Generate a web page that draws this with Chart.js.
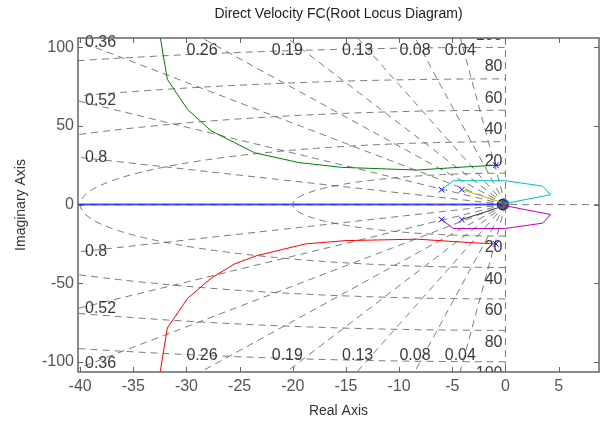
<!DOCTYPE html>
<html lang="en">
<head>
    <meta charset="UTF-8">
    <title>Direct Velocity FC(Root Locus Diagram)</title>
    <script src="https://cdn.jsdelivr.net/npm/chart.js"></script>
    <style>
        html, body { margin: 0; padding: 0; background: #fff; }
        #wrap { width: 605px; height: 423px; }
    </style>
</head>
<body>
    <div id="wrap">
        <canvas id="rlocus"></canvas>
    </div>

    <script>
        // Axis ticks
        const xTicks = [-40, -35, -30, -25, -20, -15, -10, -5, 0, 5];
        const yTicks = [-100, -50, 0, 50, 100];

        // sgrid: damping ratios and natural frequencies
        const zetaVals = [0.04, 0.08, 0.13, 0.19, 0.26, 0.36, 0.52, 0.8];
        const wnVals = [20, 40, 60, 80, 100];

        // open-loop poles and zeros
        const poleRe = [-0.9, -0.9, -6.0, -6.0, -4.1, -4.1];
        const poleIm = [25.0, -25.0, 9.5, -9.5, 9.5, -9.5];
        const zeroRe = [-0.3];
        const zeroIm = [0];

        // locus branches (real part, imaginary part)
        const realAxisRe = [-45, -0.3];
        const realAxisIm = [0, 0];

        const greenRe = [-0.9, -3.5, -8.3, -15.4, -19.4, -23.6, -27.7, -29.9, -31.8, -32.6];
        const greenIm = [25.0, 24.1, 22.0, 23.7, 26.7, 33.0, 47.0, 60.6, 79.7, 112];

        const redRe = [-0.9, -3.5, -8.3, -15.0, -18.8, -23.4, -25.5, -27.7, -29.9, -31.8, -32.6];
        const redIm = [-25.0, -24.1, -22.0, -22.9, -25.0, -32.5, -37.8, -46.9, -59.7, -78.5, -112];

        const cyanRe = [-6.0, -4.9, -0.05, 3.5, 4.25, -0.1];
        const cyanIm = [9.5, 15.2, 15.2, 11.8, 6.3, 0.6];

        const magentaRe = [-6.0, -4.9, -0.05, 3.5, 4.25, -0.1];
        const magentaIm = [-9.5, -15.2, -15.2, -11.8, -6.3, -0.6];

        const yellowRe = [-4.1, -0.65, -0.3];
        const yellowIm = [9.5, 2.1, 0.4];

        const blackRe = [-4.1, -0.6, -0.3];
        const blackIm = [-9.5, -1.8, -0.4];

        const X_MIN = -40.2, X_MAX = 8.8;
        const Y_MIN = -106.5, Y_MAX = 106;

        const FONT = "'Liberation Sans', Arial, sans-serif";

        function pts(re, im) {
            return re.map((v, i) => ({ x: v, y: im[i] }));
        }

        function branch(re, im, color, width) {
            return {
                data: pts(re, im),
                showLine: true,
                borderColor: color,
                borderWidth: width || 1,
                pointRadius: 0,
                fill: false,
                clip: 0
            };
        }

        // damping rays, wn ellipses and their labels
        const sgridPlugin = {
            id: 'sgrid',
            beforeDatasetsDraw(chart) {
                const ctx = chart.ctx;
                const { left, right, top, bottom } = chart.chartArea;
                const xs = chart.scales.x, ys = chart.scales.y;
                const ox = xs.getPixelForValue(0), oy = ys.getPixelForValue(0);

                ctx.save();
                ctx.beginPath();
                ctx.rect(left, top, right - left, bottom - top);
                ctx.clip();

                ctx.strokeStyle = 'rgba(90,90,90,0.8)';
                ctx.lineWidth = 1;
                ctx.setLineDash([7, 5]);

                // natural frequency curves
                wnVals.forEach(wn => {
                    const rx = ox - xs.getPixelForValue(-wn);
                    const ry = ys.getPixelForValue(-wn) - oy;
                    ctx.beginPath();
                    ctx.ellipse(ox, oy, rx, ry, 0, Math.PI / 2, Math.PI * 1.5);
                    ctx.stroke();
                });

                // constant damping rays
                const R = 1000;
                zetaVals.forEach(z => {
                    const ex = xs.getPixelForValue(-R * z);
                    const s = Math.sqrt(1 - z * z);
                    [1, -1].forEach(sign => {
                        ctx.beginPath();
                        ctx.moveTo(ox, oy);
                        ctx.lineTo(ex, ys.getPixelForValue(sign * R * s));
                        ctx.stroke();
                    });
                });

                // real and imaginary axes
                ctx.beginPath();
                ctx.moveTo(left, oy);
                ctx.lineTo(right, oy);
                ctx.moveTo(ox, top);
                ctx.lineTo(ox, bottom);
                ctx.stroke();

                ctx.setLineDash([]);
                ctx.fillStyle = 'rgba(95,95,95,0.95)';
                ctx.beginPath();
                ctx.arc(ox - 2, oy, 6, 0, Math.PI * 2);
                ctx.fill();

                // wn labels, cut at the axes box
                ctx.fillStyle = '#3a3a3a';
                ctx.font = '16px ' + FONT;
                ctx.textBaseline = 'middle';
                ctx.textAlign = 'right';
                wnVals.forEach(wn => {
                    ctx.fillText(String(wn), ox - 3, ys.getPixelForValue(wn) - 12);
                    ctx.fillText(String(wn), ox - 3, ys.getPixelForValue(-wn) + 12);
                });
                ctx.restore();

                // damping labels
                ctx.save();
                ctx.fillStyle = '#3a3a3a';
                ctx.font = '16px ' + FONT;
                ctx.textBaseline = 'middle';
                zetaVals.forEach(z => {
                    const k = Math.sqrt(1 - z * z) / z;
                    const txt = String(z);
                    const xTop = -Y_MAX / k;
                    if (xTop >= X_MIN) {
                        ctx.textAlign = 'center';
                        const px = xs.getPixelForValue(xTop);
                        ctx.fillText(txt, px, top + 12.5);
                        ctx.fillText(txt, px, bottom - 16);
                    } else {
                        ctx.textAlign = 'left';
                        const yc = -X_MIN * k;
                        const yu = Math.max(ys.getPixelForValue(yc), top + 5);
                        const yl = Math.min(ys.getPixelForValue(-yc), bottom - 8);
                        ctx.fillText(txt, left + 7, yu);
                        ctx.fillText(txt, left + 7, yl);
                    }
                });
                ctx.restore();
            }
        };

        // axes box with inward ticks on all four sides
        const boxPlugin = {
            id: 'box',
            afterDatasetsDraw(chart) {
                const ctx = chart.ctx;
                const { left, right, top, bottom } = chart.chartArea;
                const xs = chart.scales.x, ys = chart.scales.y;
                const tl = 5;
                ctx.save();
                ctx.strokeStyle = '#666';
                ctx.lineWidth = 1;
                ctx.beginPath();
                xTicks.forEach(v => {
                    const px = Math.round(xs.getPixelForValue(v)) + 0.5;
                    ctx.moveTo(px, bottom); ctx.lineTo(px, bottom - tl);
                    ctx.moveTo(px, top); ctx.lineTo(px, top + tl);
                });
                yTicks.forEach(v => {
                    const py = Math.round(ys.getPixelForValue(v)) + 0.5;
                    ctx.moveTo(left, py); ctx.lineTo(left + tl, py);
                    ctx.moveTo(right, py); ctx.lineTo(right - tl, py);
                });
                ctx.stroke();
                ctx.lineWidth = 1.5;
                ctx.strokeRect(left, top, right - left, bottom - top);
                ctx.restore();
            }
        };

        const datasets = [
            branch(realAxisRe, realAxisIm, 'rgba(20,20,255,0.75)', 2),
            branch(greenRe, greenIm, '#008000'),
            branch(redRe, redIm, '#ff0000'),
            branch(cyanRe, cyanIm, '#00bfbf'),
            branch(magentaRe, magentaIm, '#bf00bf'),
            branch(yellowRe, yellowIm, '#bfbf00'),
            branch(blackRe, blackIm, '#404040'),
            {
                data: pts(poleRe, poleIm),
                pointStyle: 'crossRot',
                pointRadius: 4,
                borderColor: '#0000ff',
                borderWidth: 1,
                showLine: false,
                clip: 0
            },
            {
                data: pts(zeroRe, zeroIm),
                pointStyle: 'circle',
                pointRadius: 5,
                borderColor: '#0000ff',
                backgroundColor: 'rgba(0,0,0,0)',
                borderWidth: 1,
                showLine: false,
                clip: 0
            }
        ];

        new Chart(document.getElementById('rlocus').getContext('2d'), {
            type: 'scatter',
            data: { datasets: datasets },
            plugins: [sgridPlugin, boxPlugin],
            options: {
                responsive: true,
                maintainAspectRatio: false,
                animation: false,
                events: [],
                layout: { padding: { left: 0, right: 4, top: 0, bottom: 0 } },
                plugins: {
                    legend: { display: false },
                    tooltip: { enabled: false },
                    title: {
                        display: true,
                        fullSize: false,
                        text: 'Direct Velocity FC(Root Locus Diagram)',
                        color: '#222',
                        font: { family: FONT, size: 14, weight: 'normal', lineHeight: 1.2 },
                        padding: { top: 6, bottom: 15.2 }
                    }
                },
                scales: {
                    x: {
                        type: 'linear',
                        min: X_MIN,
                        max: X_MAX,
                        grid: { display: false, drawTicks: false },
                        border: { display: false },
                        afterBuildTicks: s => { s.ticks = xTicks.map(v => ({ value: v })); },
                        afterFit: s => { s.height = 51; },
                        ticks: {
                            color: '#555',
                            padding: 5,
                            maxRotation: 0,
                            autoSkip: false,
                            font: { family: FONT, size: 16 },
                            callback: v => String(v)
                        },
                        title: {
                            display: true,
                            text: 'Real Axis',
                            color: '#333',
                            font: { family: FONT, size: 14 },
                            padding: { top: 3, bottom: 3 }
                        }
                    },
                    y: {
                        type: 'linear',
                        min: Y_MIN,
                        max: Y_MAX,
                        grid: { display: false, drawTicks: false },
                        border: { display: false },
                        afterBuildTicks: s => { s.ticks = yTicks.map(v => ({ value: v })); },
                        afterFit: s => { s.width = 78; },
                        ticks: {
                            color: '#555',
                            padding: 4,
                            autoSkip: false,
                            font: { family: FONT, size: 16 },
                            callback: v => String(v)
                        },
                        title: {
                            display: true,
                            text: 'Imaginary Axis',
                            color: '#333',
                            font: { family: FONT, size: 14 },
                            padding: { top: 13, bottom: 0 }
                        }
                    }
                }
            }
        });
    </script>
</body>
</html>
